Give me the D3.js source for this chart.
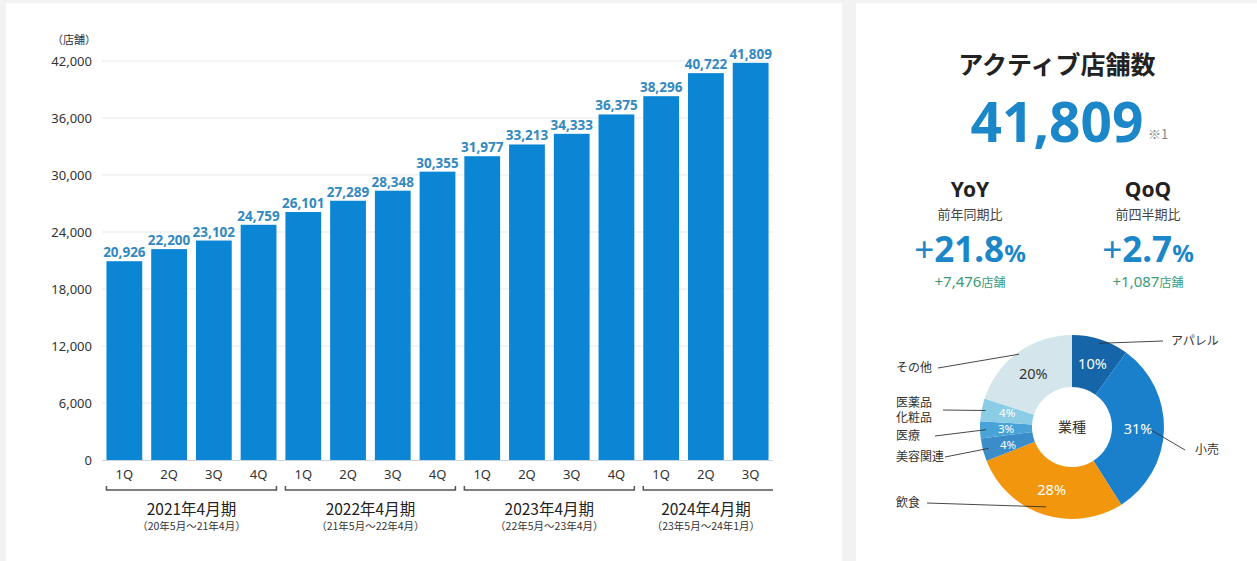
<!DOCTYPE html>
<html lang="ja">
<head>
<meta charset="utf-8">
<script src="https://cdn.jsdelivr.net/npm/d3@7"></script>
<style>
  html, body { margin: 0; padding: 0; background: #f2f2f2; }
  svg { display: block; font-family: "Noto Sans CJK JP", "Noto Sans", sans-serif; }
</style>
</head>
<body>
<svg id="chart" width="1257" height="561"></svg>
<script>
// Quarterly active store counts
const quarters = ["1Q","2Q","3Q","4Q","1Q","2Q","3Q","4Q","1Q","2Q","3Q","4Q","1Q","2Q","3Q"];
const storeCounts = [20926, 22200, 23102, 24759, 26101, 27289, 28348, 30355, 31977, 33213, 34333, 36375, 38296, 40722, 41809];
const fiscalYears = ["2021年4月期", "2022年4月期", "2023年4月期", "2024年4月期"];
const fiscalRanges = ["（20年5月～21年4月）", "（21年5月～22年4月）", "（22年5月～23年4月）", "（23年5月～24年1月）"];
const quartersPerYear = [4, 4, 4, 3];
const yTicks = [0, 6000, 12000, 18000, 24000, 30000, 36000, 42000];

// Industry breakdown
const industries = ["アパレル", "小売", "飲食", "美容関連", "医療", "医薬品\n化粧品", "その他"];
const industryShares = [10, 31, 28, 4, 3, 4, 20];
const industryColors = ["#1565a8", "#1a80cc", "#f2960e", "#3a8dc8", "#4aa3d8", "#8ccde6", "#d4e6ec"];

// Headline figures
const headline = { title: "アクティブ店舗数", total: "41,809", note: "※1" };
const growth = [
  { head: "YoY", sub: "前年同期比", pct: "+21.8", diff: "+7,476" },
  { head: "QoQ", sub: "前四半期比", pct: "+2.7", diff: "+1,087" }
];

const svg = d3.select("#chart");

// panels
svg.append("rect").attr("x", 0).attr("y", 0).attr("width", 1257).attr("height", 561).attr("fill", "#f2f2f2");
svg.append("rect").attr("x", 6).attr("y", 3).attr("width", 836).attr("height", 558).attr("fill", "#fff");
svg.append("rect").attr("x", 856).attr("y", 3).attr("width", 401).attr("height", 558).attr("fill", "#fff");

// ---- bar chart ----
const x = d3.scaleBand().domain(d3.range(storeCounts.length)).range([102, 773]).paddingInner(0.2).paddingOuter(0.1);
const y = d3.scaleLinear().domain([0, 42000]).range([460, 61]);

const grid = svg.append("g");
grid.selectAll("line").data(yTicks.filter(d => d > 0)).join("line")
  .attr("x1", 102).attr("x2", 773)
  .attr("y1", d => y(d)).attr("y2", d => y(d))
  .attr("stroke", "#e9e9e9").attr("stroke-width", 1);

const yAxis = svg.append("g").attr("transform", "translate(102,0)")
  .call(d3.axisLeft(y).tickValues(yTicks).tickSize(0).tickPadding(10).tickFormat(d3.format(",")));
yAxis.select(".domain").remove();
yAxis.selectAll("text").attr("font-size", 13).attr("fill", "#333").attr("font-family", "'Noto Sans', 'Noto Sans CJK JP', sans-serif");

svg.append("text").attr("x", 74).attr("y", 44).attr("text-anchor", "middle")
  .attr("font-size", 11).attr("fill", "#333").text("（店舗）");

svg.append("g").selectAll("rect").data(storeCounts).join("rect")
  .attr("x", (d, i) => x(i)).attr("width", x.bandwidth())
  .attr("y", d => y(d)).attr("height", d => y(0) - y(d))
  .attr("fill", "#0b86d5");

svg.append("line").attr("x1", 102).attr("x2", 773).attr("y1", y(0) + 0.5).attr("y2", y(0) + 0.5)
  .attr("stroke", "#c9d6e2").attr("stroke-width", 1);

svg.append("g").selectAll("text").data(storeCounts).join("text")
  .attr("x", (d, i) => x(i) + x.bandwidth() / 2).attr("y", d => y(d) - 4)
  .attr("text-anchor", "middle").attr("font-size", 13.5).attr("font-weight", 700)
  .attr("fill", "#3289c0").attr("font-family", "'Noto Sans', sans-serif")
  .text(d => d3.format(",")(d));

const xAxis = svg.append("g").attr("transform", `translate(0,${y(0)})`)
  .call(d3.axisBottom(x).tickSize(0).tickPadding(10).tickFormat(i => quarters[i]));
xAxis.select(".domain").remove();
xAxis.selectAll("text").attr("font-size", 13).attr("fill", "#333").attr("font-family", "'Noto Sans', sans-serif");

// fiscal year brackets
let start = 0;
fiscalYears.forEach((fy, k) => {
  const n = quartersPerYear[k];
  const x0 = x(start);
  const last = k === fiscalYears.length - 1;
  const x1 = last ? 773 : x(start + n - 1) + x.bandwidth();
  const g = svg.append("g");
  const path = last
    ? `M${x0},486 V490 H${x1}`
    : `M${x0},486 V490 H${x1} V486`;
  g.append("path").attr("d", path).attr("fill", "none").attr("stroke", "#555").attr("stroke-width", 1.5);
  const cx = last ? (x0 + x(start + n - 1) + x.bandwidth()) / 2 : (x0 + x1) / 2;
  g.append("text").attr("x", cx).attr("y", 515).attr("text-anchor", "middle")
    .attr("font-size", 15.5).attr("fill", "#222").text(fy);
  g.append("text").attr("x", cx).attr("y", 530).attr("text-anchor", "middle")
    .attr("font-size", 10.5).attr("fill", "#333").text(fiscalRanges[k]);
  start += n;
});

// ---- headline panel ----
svg.append("text").attr("x", 1057).attr("y", 74).attr("text-anchor", "middle")
  .attr("font-size", 25).attr("font-weight", 700).attr("fill", "#222").text(headline.title);
svg.append("text").attr("x", 1057).attr("y", 142).attr("text-anchor", "middle")
  .attr("font-size", 55).attr("font-weight", 700).attr("fill", "#1b86c8")
  .attr("font-family", "'Noto Sans', sans-serif").text(headline.total);
svg.append("text").attr("x", 1148).attr("y", 139).attr("font-size", 13).attr("fill", "#888").text(headline.note);

const gx = [970, 1148];
growth.forEach((g, i) => {
  const cx = gx[i];
  svg.append("text").attr("x", cx).attr("y", 197).attr("text-anchor", "middle")
    .attr("font-size", 21).attr("font-weight", 700).attr("fill", "#222")
    .attr("font-family", "'Noto Sans', sans-serif").text(g.head);
  svg.append("text").attr("x", cx).attr("y", 219).attr("text-anchor", "middle")
    .attr("font-size", 13).attr("fill", "#444").text(g.sub);
  const t = svg.append("text").attr("x", cx).attr("y", 262).attr("text-anchor", "middle")
    .attr("fill", "#1b86c8").attr("font-family", "'Noto Sans', sans-serif");
  t.append("tspan").attr("font-size", 35).attr("font-weight", 400).text(g.pct.slice(0, 1));
  t.append("tspan").attr("font-size", 35).attr("font-weight", 700).text(g.pct.slice(1));
  t.append("tspan").attr("font-size", 24).attr("font-weight", 700).text("%");
  const d = svg.append("text").attr("x", cx).attr("y", 287).attr("text-anchor", "middle").attr("fill", "#3b9a78");
  d.append("tspan").attr("font-size", 15).attr("font-family", "'Noto Sans', sans-serif").text(g.diff);
  d.append("tspan").attr("font-size", 12).text("店舗");
});

// ---- industry donut ----
const cx = 1072, cy = 427, rOuter = 92, rInner = 40;
const pie = d3.pie().sort(null).value(d => d)(industryShares);
const arc = d3.arc().innerRadius(rInner).outerRadius(rOuter);
const labelArc = d3.arc().innerRadius(66).outerRadius(66);
const donut = svg.append("g").attr("transform", `translate(${cx},${cy})`);
donut.selectAll("path").data(pie).join("path")
  .attr("d", arc).attr("fill", (d, i) => industryColors[i]);
// the three thin slices sit on top of each other, so fan their labels out a little
const spread = [0, 0, 0, 1.6, 0, -1.6, 0];
donut.selectAll("text.pct").data(pie).join("text").attr("class", "pct")
  .attr("transform", (d, i) => {
    const [px, py] = labelArc.centroid(d);
    return `translate(${px},${py + spread[i]})`;
  })
  .attr("text-anchor", "middle").attr("dy", "0.34em")
  .attr("font-size", d => d.data < 5 ? 11.5 : 14.5)
  .attr("fill", (d, i) => i === 6 ? "#333" : "#fff")
  .attr("font-family", "'Noto Sans', sans-serif")
  .text(d => d.data + "%");
donut.append("text").attr("text-anchor", "middle").attr("dy", "0.36em")
  .attr("font-size", 14).attr("fill", "#333").text("業種");

// leader lines: outer end point and label x for each industry
const leaderEnds = [
  [1163, 341, 1171],
  [1185, 450, 1195],
  [927, 503, 896],
  [945, 457, 896],
  [935, 436, 896],
  [943, 410, 896],
  [938, 368, 896]
];
const leaderRadius = [88, 78, 84, 86, 86, 88, 90];
pie.forEach((p, i) => {
  const mid = (p.startAngle + p.endAngle) / 2;
  const px = cx + leaderRadius[i] * Math.sin(mid);
  const py = cy - leaderRadius[i] * Math.cos(mid);
  const [ex, ey, lx] = leaderEnds[i];
  svg.append("line").attr("x1", px).attr("y1", py).attr("x2", ex).attr("y2", ey)
    .attr("stroke", "#333").attr("stroke-width", 0.9);
  const lines = industries[i].split("\n");
  const t = svg.append("text").attr("font-size", 12).attr("fill", "#333");
  const lineGap = 15;
  const baseY = ey + 4 - (lines.length - 1) * lineGap / 2;
  lines.forEach((ln, j) => {
    t.append("tspan").attr("x", lx).attr("y", baseY + j * lineGap).text(ln);
  });
});
</script>
</body>
</html>
